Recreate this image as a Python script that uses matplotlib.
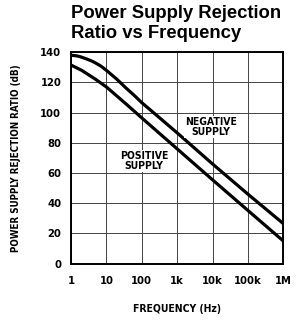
import matplotlib
matplotlib.use("Agg")
import matplotlib.pyplot as plt

# data (dB vs Hz)
freq_neg = [1, 1.5, 2, 3, 4, 5, 7, 10, 20, 37, 60, 100, 200, 1e3, 1e4, 1e5, 1e6]
psrr_neg = [138, 137.5, 136.7, 135.2, 134, 132.8, 130.8, 128, 122, 116, 111.6,
            106.6, 100.6, 86.6, 66, 46, 26.5]
freq_pos = [1, 2, 5, 10, 37, 63, 100, 1e3, 1e4, 1e5, 1e6]
psrr_pos = [131.5, 128, 122, 117, 105.5, 100.7, 96.5, 76, 55.5, 35.2, 15]

x_ticks = [1, 10, 100, 1e3, 1e4, 1e5, 1e6]
x_labels = ["1", "10", "100", "1k", "10k", "100k", "1M"]
y_ticks = [0, 20, 40, 60, 80, 100, 120, 140]

label_font = dict(family="DejaVu Sans", fontstretch="condensed", fontweight="bold")

fig = plt.figure(figsize=(2.98, 3.22), dpi=100)
ax = fig.add_axes([0.238, 0.181, 0.713, 0.657])

ax.plot(freq_neg, psrr_neg, color="black", lw=2.3, solid_joinstyle="round")
ax.plot(freq_pos, psrr_pos, color="black", lw=2.3, solid_joinstyle="round")

ax.set_xscale("log")
ax.set_xlim(1, 1e6)
ax.set_ylim(0, 140)
ax.set_xticks(x_ticks)
ax.set_xticklabels(x_labels)
ax.set_yticks(y_ticks)
ax.minorticks_off()
ax.tick_params(axis="y", length=0, pad=7)
ax.tick_params(axis="x", length=0, pad=9)
for lbl in ax.get_xticklabels() + ax.get_yticklabels():
    lbl.set(**label_font)
    lbl.set_fontsize(8)

ax.grid(True, color="#444444", lw=0.7)
for sp in ax.spines.values():
    sp.set_linewidth(1.4)

ax.text(9e3, 90.5, "NEGATIVE\nSUPPLY", ha="center", va="center",
        fontsize=7.5, linespacing=1.1, bbox=dict(fc="white", ec="none", pad=0.5),
        **label_font)
ax.text(115, 68, "POSITIVE\nSUPPLY", ha="center", va="center",
        fontsize=7.5, linespacing=1.1, bbox=dict(fc="white", ec="none", pad=0.5),
        **label_font)

ax.set_xlabel("FREQUENCY (Hz)", fontsize=7.5, labelpad=13, **label_font)
ax.set_ylabel("POWER SUPPLY REJECTION RATIO (dB)", fontsize=7, labelpad=14,
              **label_font)

fig.text(71 / 298, 1 - 18 / 322, "Power Supply Rejection", ha="left",
         va="baseline", family="Liberation Sans", fontweight="bold", fontsize=13.3)
fig.text(71 / 298, 1 - 38 / 322, "Ratio vs Frequency", ha="left",
         va="baseline", family="Liberation Sans", fontweight="bold", fontsize=13.3)

fig.savefig("out.png", dpi=100)
